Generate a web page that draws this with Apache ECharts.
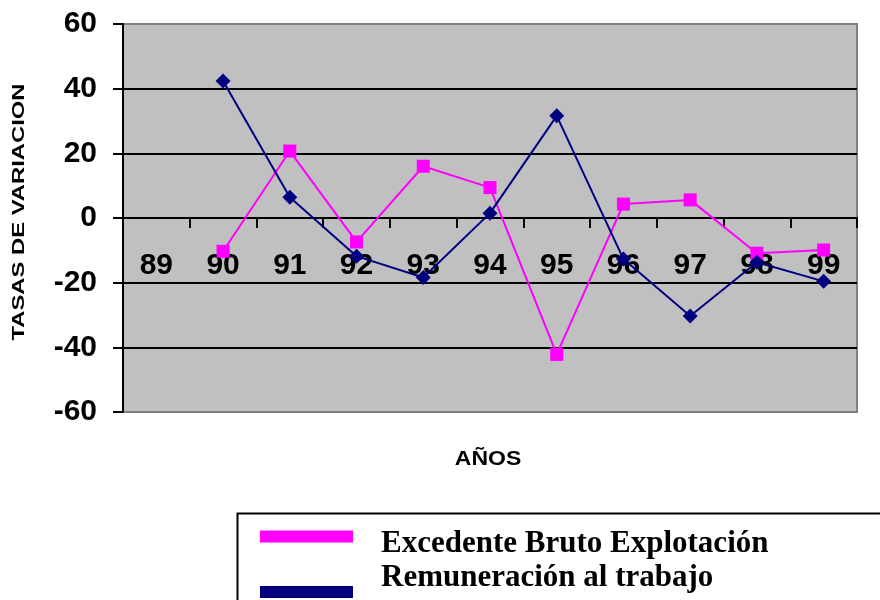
<!DOCTYPE html>
<html>
<head>
<meta charset="utf-8">
<script src="https://cdn.jsdelivr.net/npm/echarts@6/dist/echarts.min.js"></script>
<style>
html,body{margin:0;padding:0;background:#fff;}
#chart{width:880px;height:600px;}
</style>
</head>
<body>
<div id="chart"></div>
<script>
const years = ['89','90','91','92','93','94','95','96','97','98','99'];
const excedente = [null, -10.3, 20.7, -7.4, 16.0, 9.4, -42.2, 4.3, 5.6, -10.9, -9.9];
const remuneracion = [null, 42.4, 6.4, -11.8, -18.4, 1.5, 31.6, -12.7, -30.3, -13.7, -19.6];
const yTicks = [-60, -40, -20, 0, 20, 40, 60];
const seriesNames = ['Excedente Bruto Explotación', 'Remuneración al trabajo'];

const chart = echarts.init(document.getElementById('chart'), null, {renderer:'canvas'});
const sansBold = {fontFamily:'Liberation Sans, Arial, sans-serif', fontWeight:'bold', color:'#000'};
const legendRich = {a:{fontFamily:'Liberation Serif, Times New Roman, serif', fontWeight:'bold', fontSize:31, color:'#000', padding:[0,0,0,23]}};

// plot: y from 24 (60) to 412 (-60); zero line at 218 -> offset -194
chart.setOption({
  animation:false,
  backgroundColor:'#ffffff',
  grid:{left:123, right:23, top:24, bottom:188, show:true, backgroundColor:'#c0c0c0', borderColor:'#808080', borderWidth:2},
  xAxis:{
    type:'category', data:years, boundaryGap:true, position:'bottom', offset:-194,
    axisLine:{onZero:false, lineStyle:{color:'#000', width:2}},
    axisTick:{show:true, interval:0, length:10, inside:false, lineStyle:{color:'#000', width:2}},
    axisLabel:Object.assign({interval:0, fontSize:30, margin:33}, sansBold),
    splitLine:{show:false}
  },
  yAxis:{
    type:'value', min:yTicks[0], max:yTicks[yTicks.length-1], interval:20,
    axisLine:{show:true, lineStyle:{color:'#000', width:2}},
    axisTick:{show:true, length:10, lineStyle:{color:'#000', width:2}},
    axisLabel:Object.assign({fontSize:30, margin:26}, sansBold),
    splitLine:{show:true, showMinLine:false, showMaxLine:false, lineStyle:{color:'#000', width:2}}
  },
  legend:[
    {data:[seriesNames[0]], left:260, top:528, padding:0, itemWidth:93, itemHeight:26,
     icon:'path://M0,0L93,0L93,12L0,12Z M0,26L0,26', itemStyle:{borderWidth:0},
     formatter:'{a|{name}}', textStyle:{rich:legendRich}},
    {data:[seriesNames[1]], left:260, top:558, padding:0, itemWidth:93, itemHeight:40,
     icon:'path://M0,0L0,0 M0,28L93,28L93,40L0,40Z', itemStyle:{borderWidth:0},
     formatter:'{a|{name}}', textStyle:{rich:legendRich}}
  ],
  graphic:[
    {type:'rect', left:235, top:511, shape:{width:700, height:120}, style:{fill:'none', stroke:'#000', lineWidth:2}, z:-1},
    {type:'text', x:19, y:212, rotation:Math.PI/2, scaleX:1.4, style:{text:'TASAS DE VARIACION', fontFamily:'Liberation Sans, Arial, sans-serif', fontWeight:'bold', fontSize:17, fill:'#000', align:'center', verticalAlign:'middle'}},
    {type:'text', x:488, y:459, scaleX:1.15, style:{text:'AÑOS', fontFamily:'Liberation Sans, Arial, sans-serif', fontWeight:'bold', fontSize:20, fill:'#000', align:'center', verticalAlign:'middle'}}
  ],
  series:[
    {name:seriesNames[0], type:'line', data:excedente, connectNulls:false,
     symbol:'rect', symbolSize:13, lineStyle:{color:'#ff00ff', width:2},
     itemStyle:{color:'#ff00ff'}, z:3},
    {name:seriesNames[1], type:'line', data:remuneracion, connectNulls:false,
     symbol:'diamond', symbolSize:15, lineStyle:{color:'#000080', width:2},
     itemStyle:{color:'#000080'}, z:4}
  ]
});
</script>
</body>
</html>
